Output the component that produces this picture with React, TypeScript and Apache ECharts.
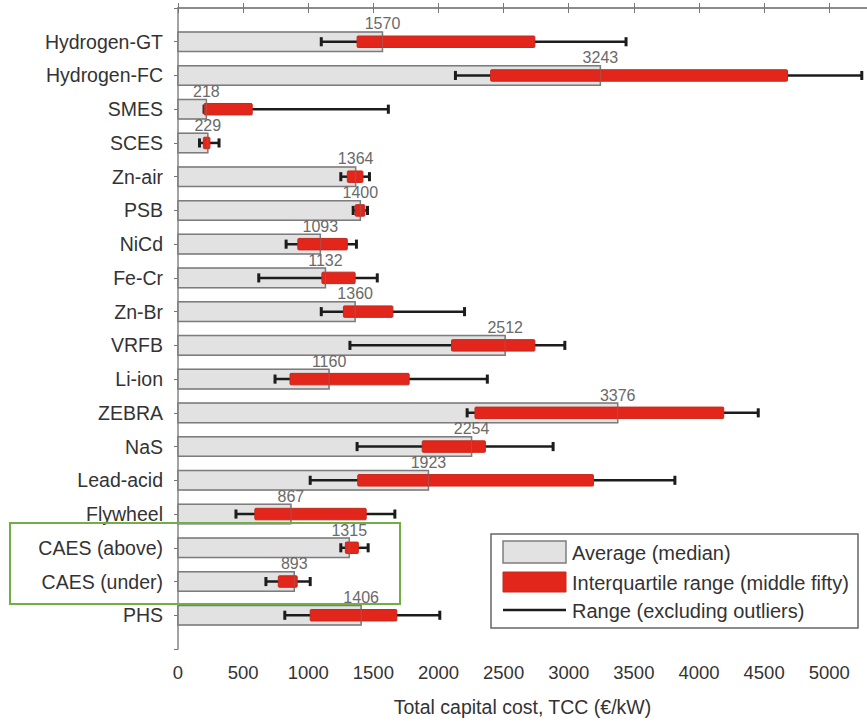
import React, { useEffect, useRef } from "react";
import * as echarts from "echarts";

const categories = [
  "Hydrogen-GT", "Hydrogen-FC", "SMES", "SCES", "Zn-air", "PSB", "NiCd", "Fe-Cr", "Zn-Br",
  "VRFB", "Li-ion", "ZEBRA", "NaS", "Lead-acid", "Flywheel", "CAES (above)", "CAES (under)", "PHS",
];
const medianValues = [1570, 3243, 218, 229, 1364, 1400, 1093, 1132, 1360, 2512, 1160, 3376, 2254, 1923, 867, 1315, 893, 1406];
const q1Values = [1375, 2400, 200, 195, 1300, 1360, 920, 1105, 1270, 2100, 860, 2280, 1875, 1380, 590, 1285, 770, 1015];
const q3Values = [2740, 4680, 570, 245, 1420, 1435, 1300, 1360, 1650, 2740, 1775, 4190, 2360, 3190, 1445, 1385, 915, 1680];
const minValues = [1100, 2130, 200, 165, 1250, 1345, 830, 620, 1100, 1320, 745, 2220, 1375, 1015, 445, 1250, 675, 820];
const maxValues = [3440, 5250, 1615, 315, 1470, 1455, 1370, 1530, 2200, 2970, 2375, 4455, 2880, 3815, 1665, 1460, 1015, 2010];
const xTicks = [0, 500, 1000, 1500, 2000, 2500, 3000, 3500, 4000, 4500, 5000];
const legendLabels = ["Average (median)", "Interquartile range (middle fifty)", "Range (excluding outliers)"];

const FONT = "'Liberation Sans', Arial, sans-serif";
const GRAY_FILL = "#e2e2e2";
const GRAY_EDGE = "#7d7d7d";
const RED = "#e3261b";
const RED_EDGE = "#c42a1c";

export default function App() {
  const ref = useRef<HTMLDivElement>(null);
  useEffect(() => {
    if (!ref.current) return;
    const chart = echarts.init(ref.current, null, { renderer: "svg" });
    const data = categories.map((_, i) => [
      medianValues[i], q1Values[i], q3Values[i], minValues[i], maxValues[i], i + 1,
    ]);
    const renderItem = (params: any, api: any) => {
      const med = api.value(0), q1 = api.value(1), q3 = api.value(2);
      const mn = api.value(3), mx = api.value(4), idx = api.value(5);
      const p0 = api.coord([0, idx]);
      const pm = api.coord([med, idx]);
      const pq1 = api.coord([q1, idx]);
      const pq3 = api.coord([q3, idx]);
      const pmn = api.coord([mn, idx]);
      const pmx = api.coord([mx, idx]);
      const band = Math.abs(api.size([0, 1])[1]);
      const gh = band * 0.58;
      const rh = band * 0.34;
      const ch = band * 0.27;
      const cy = p0[1];
      return {
        type: "group",
        children: [
          {
            type: "rect",
            shape: { x: p0[0], y: cy - gh / 2, width: pm[0] - p0[0], height: gh },
            style: { fill: GRAY_FILL, stroke: GRAY_EDGE, lineWidth: 1.5 },
          },
          {
            type: "line",
            shape: { x1: pmn[0], y1: cy, x2: pmx[0], y2: cy },
            style: { stroke: "#1c1c1c", lineWidth: 2.5 },
          },
          {
            type: "line",
            shape: { x1: pmn[0], y1: cy - ch / 2, x2: pmn[0], y2: cy + ch / 2 },
            style: { stroke: "#1c1c1c", lineWidth: 3 },
          },
          {
            type: "line",
            shape: { x1: pmx[0], y1: cy - ch / 2, x2: pmx[0], y2: cy + ch / 2 },
            style: { stroke: "#1c1c1c", lineWidth: 3 },
          },
          {
            type: "rect",
            shape: { x: pq1[0], y: cy - rh / 2, width: Math.max(pq3[0] - pq1[0], 3), height: rh, r: 1 },
            style: { fill: RED, stroke: RED_EDGE, lineWidth: 1 },
          },
          {
            type: "rect",
            shape: { x: p0[0], y: cy - gh / 2, width: pm[0] - p0[0], height: gh },
            style: { fill: "none", stroke: GRAY_EDGE, lineWidth: 1, opacity: 0.45 },
          },
          {
            type: "text",
            style: {
              text: String(med),
              x: pm[0],
              y: cy - gh / 2 - 8,
              align: "center",
              verticalAlign: "middle",
              fill: "#6a6a6a",
              font: `16px ${FONT}`,
            },
          },
        ],
      };
    };
    chart.setOption({
      animation: false,
      backgroundColor: "#ffffff",
      grid: { left: 178, top: 8, right: 0, bottom: 73, containLabel: false, outerBoundsMode: "none" },
      xAxis: [
        {
          type: "value",
          min: 0,
          max: 5290,
          interval: 500,
          position: "bottom",
          name: "Total capital cost, TCC (€/kW)",
          nameLocation: "middle",
          nameGap: 48,
          nameTextStyle: { fontFamily: FONT, fontSize: 19.5, color: "#333" },
          axisLine: { show: true, lineStyle: { color: "#858585", width: 1.5 } },
          axisTick: { show: true, inside: true, length: 5, lineStyle: { color: "#777" } },
          axisLabel: {
            fontFamily: FONT,
            fontSize: 18.5,
            color: "#333",
            margin: 14,
            showMaxLabel: false,
            formatter: (v: number) => (xTicks.includes(v) ? String(v) : ""),
          },
          splitLine: { show: false },
        },
        {
          type: "value",
          min: 0,
          max: 5290,
          interval: 500,
          position: "top",
          axisLine: { show: true, lineStyle: { color: "#858585", width: 1.5 } },
          axisTick: { show: true, inside: true, length: 5, lineStyle: { color: "#777" } },
          axisLabel: { show: false },
          splitLine: { show: false },
        },
      ],
      yAxis: [
        {
          type: "value",
          min: 0,
          max: 19,
          interval: 1,
          inverse: true,
          position: "left",
          axisLine: { show: true, lineStyle: { color: "#858585", width: 1.5 } },
          axisTick: { show: false },
          axisLabel: {
            fontFamily: FONT,
            fontSize: 19.5,
            color: "#333",
            margin: 15,
            formatter: (v: number) => categories[v - 1] ?? "",
          },
          splitLine: { show: false },
        },
        {
          type: "value",
          min: 0,
          max: 19,
          interval: 1,
          inverse: true,
          position: "right",
          axisLine: { show: false },
          axisTick: { show: true, inside: true, length: 4, lineStyle: { color: "#777" } },
          axisLabel: { show: false },
          splitLine: { show: false },
        },
      ],
      series: [
        {
          type: "custom",
          xAxisIndex: 0,
          yAxisIndex: 0,
          renderItem,
          encode: { x: [0, 1, 2, 3, 4], y: 5 },
          data,
          clip: false,
        },
      ],
      graphic: [
        {
          type: "rect",
          shape: { x: 10, y: 523, width: 390, height: 81 },
          style: { fill: "none", stroke: "#72ae48", lineWidth: 2 },
          z: 100,
        },
        {
          type: "rect",
          shape: { x: 491, y: 534, width: 367, height: 94 },
          style: { fill: "#fff", stroke: "#666", lineWidth: 1.5 },
          z: 100,
        },
        {
          type: "rect",
          shape: { x: 503, y: 541, width: 63, height: 22 },
          style: { fill: GRAY_FILL, stroke: GRAY_EDGE, lineWidth: 1.5 },
          z: 101,
        },
        {
          type: "rect",
          shape: { x: 503, y: 572, width: 63, height: 20 },
          style: { fill: RED, stroke: RED_EDGE, lineWidth: 1 },
          z: 101,
        },
        {
          type: "line",
          shape: { x1: 503, y1: 610, x2: 566, y2: 610 },
          style: { stroke: "#1c1c1c", lineWidth: 2.5 },
          z: 101,
        },
        ...legendLabels.map((t, i) => ({
          type: "text",
          x: 572,
          y: [553, 583, 611][i],
          style: {
            text: t,
            fill: "#333",
            font: `20px ${FONT}`,
            verticalAlign: "middle",
            align: "left",
          },
          z: 101,
        })),
      ],
    });
    return () => chart.dispose();
  }, []);
  return (
    <div
      ref={ref}
      style={{ position: "fixed", left: 0, top: 0, width: 867, height: 722, background: "#fff" }}
    />
  );
}
